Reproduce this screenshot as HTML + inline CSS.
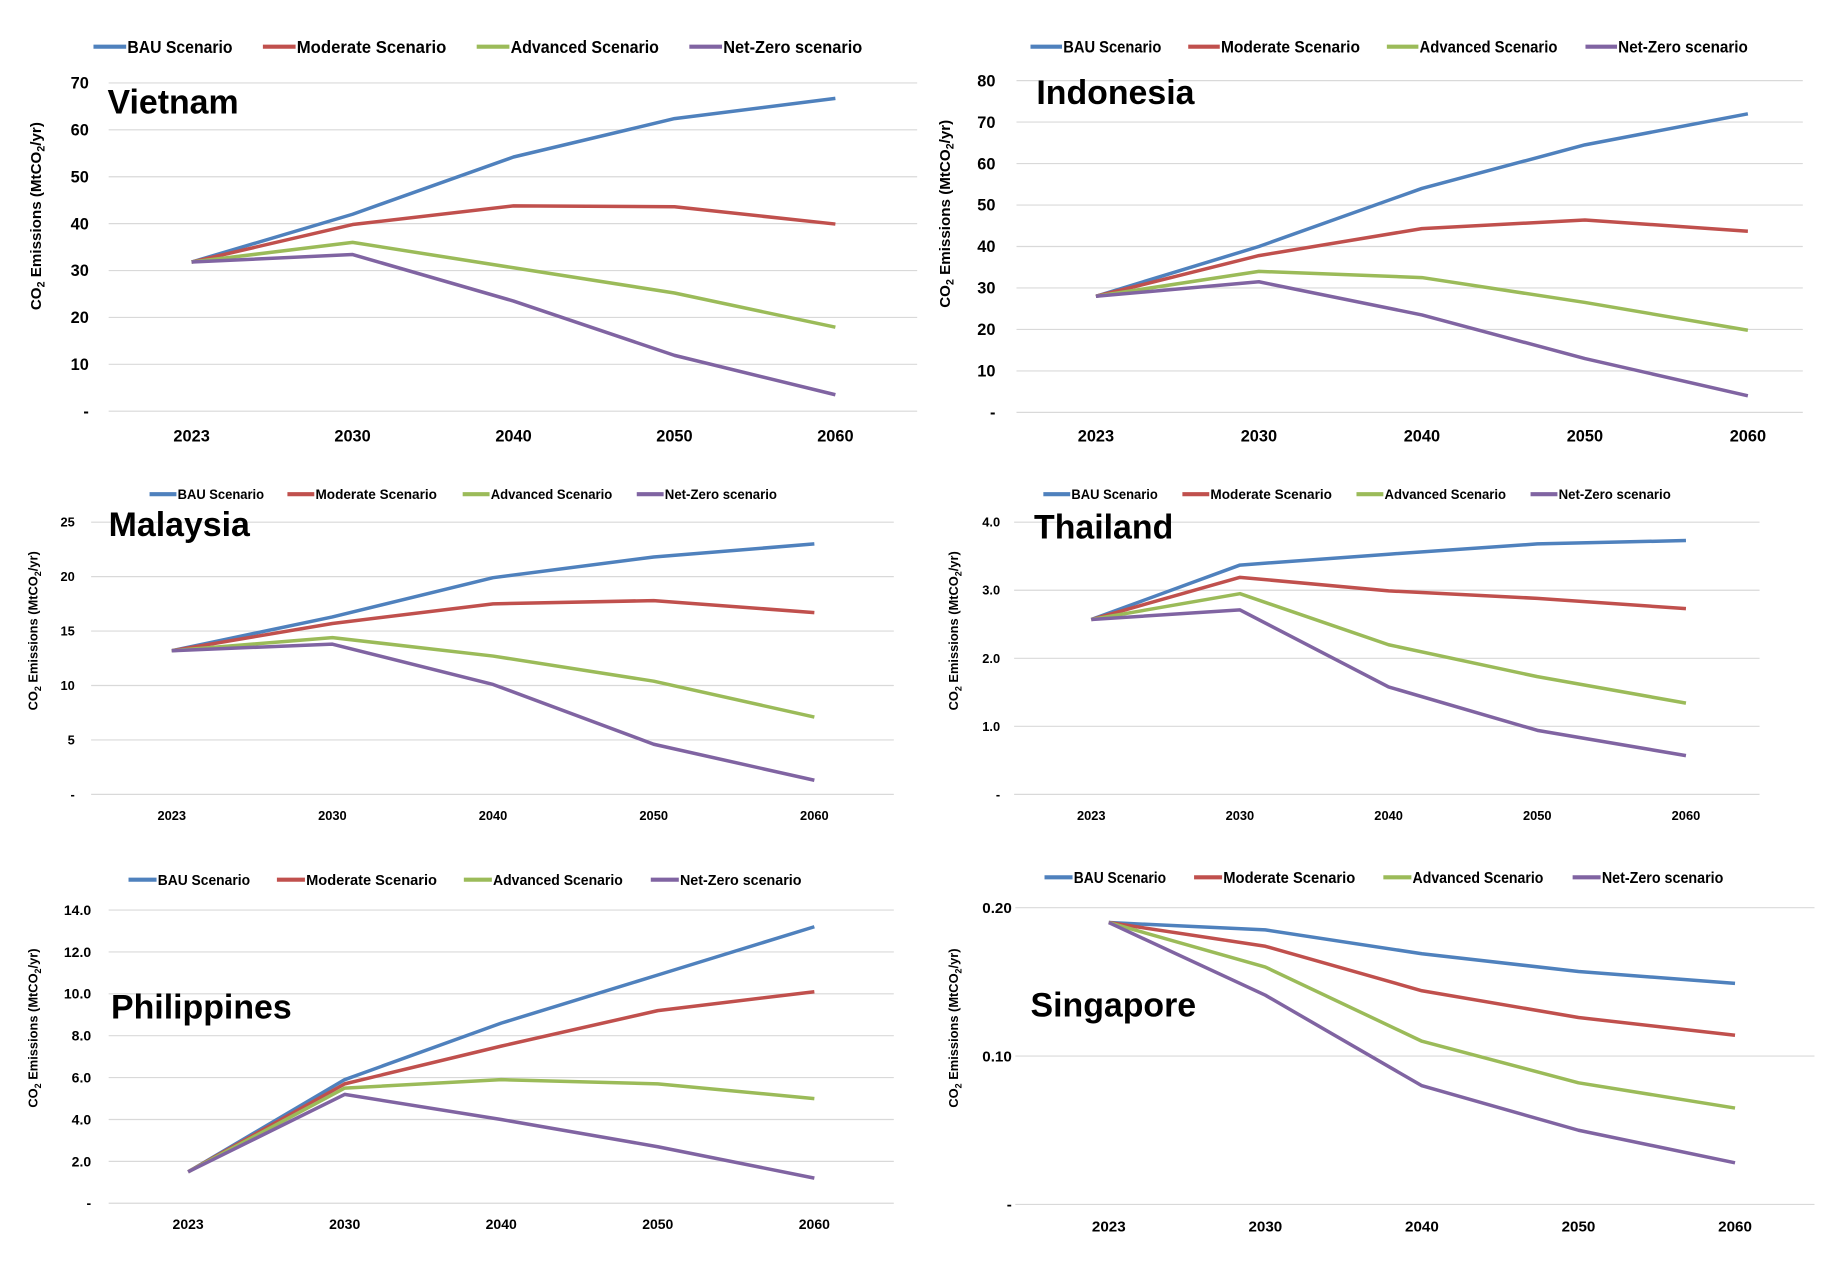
<!DOCTYPE html>
<html><head><meta charset="utf-8"><style>
html,body{margin:0;padding:0;background:#fff;}
svg{display:block;font-family:"Liberation Sans Narrow","Liberation Sans",sans-serif;}
</style></head><body>
<svg id="chart" width="1832" height="1282" viewBox="0 0 1568 1097.4" preserveAspectRatio="none" xmlns="http://www.w3.org/2000/svg"></svg>
<script>
const categories = ["2023","2030","2040","2050","2060"];
const seriesNames = ["BAU Scenario","Moderate Scenario","Advanced Scenario","Net-Zero scenario"];
const colors = ["#4f81bd","#c0504d","#9bbb59","#8064a2"];

const vietnamBAU = [31.8,42,54.2,62.4,66.7];
const vietnamModerate = [31.8,39.8,43.8,43.6,39.9];
const vietnamAdvanced = [31.8,36,30.6,25.2,17.9];
const vietnamNetZero = [31.8,33.4,23.5,11.9,3.5];
const vietnamTicks = ["-","10","20","30","40","50","60","70"];

const indonesiaBAU = [28,40,54,64.5,72];
const indonesiaModerate = [28,37.8,44.3,46.4,43.7];
const indonesiaAdvanced = [28,34,32.5,26.5,19.8];
const indonesiaNetZero = [28,31.5,23.5,13,4];
const indonesiaTicks = ["-","10","20","30","40","50","60","70","80"];

const malaysiaBAU = [13.2,16.3,19.9,21.8,23];
const malaysiaModerate = [13.2,15.7,17.5,17.8,16.7];
const malaysiaAdvanced = [13.2,14.4,12.7,10.4,7.1];
const malaysiaNetZero = [13.2,13.8,10.1,4.6,1.3];
const malaysiaTicks = ["-","5","10","15","20","25"];

const thailandBAU = [2.57,3.37,3.53,3.68,3.73];
const thailandModerate = [2.57,3.19,2.99,2.88,2.73];
const thailandAdvanced = [2.57,2.95,2.2,1.73,1.34];
const thailandNetZero = [2.57,2.71,1.58,0.94,0.57];
const thailandTicks = ["-","1.0","2.0","3.0","4.0"];

const philippinesBAU = [1.5,5.9,8.6,10.9,13.2];
const philippinesModerate = [1.5,5.7,7.5,9.2,10.1];
const philippinesAdvanced = [1.5,5.5,5.9,5.7,5.0];
const philippinesNetZero = [1.5,5.2,4.0,2.7,1.2];
const philippinesTicks = ["-","2.0","4.0","6.0","8.0","10.0","12.0","14.0"];

const singaporeBAU = [0.190,0.185,0.169,0.157,0.149];
const singaporeModerate = [0.190,0.174,0.144,0.126,0.114];
const singaporeAdvanced = [0.190,0.160,0.110,0.082,0.065];
const singaporeNetZero = [0.190,0.141,0.080,0.050,0.028];
const singaporeTicks = ["-","0.10","0.20"];

const NS="http://www.w3.org/2000/svg";
const svg=document.getElementById('chart');
function mk(tag,attrs,parent,text){const e=document.createElementNS(NS,tag);for(const k in attrs)e.setAttribute(k,attrs[k]);if(text!==undefined)e.textContent=text;parent.appendChild(e);return e;}

const panels=[
 {name:"Vietnam",series:[vietnamBAU,vietnamModerate,vietnamAdvanced,vietnamNetZero],ticks:vietnamTicks,max:70,
  gx0:93,gx1:785,y0:352,y1:71,cx0:164,cx1:715,tickX:76,xlabY:378,tfs:14,lfs:15,
  leg:{y:40,x:[80,225,408,590],lw:28,tw:[90,128,127,119]},title:{x:92,y:97,fs:29},at:{x:35,y:185,fs:13}},
 {name:"Indonesia",series:[indonesiaBAU,indonesiaModerate,indonesiaAdvanced,indonesiaNetZero],ticks:indonesiaTicks,max:80,
  gx0:870,gx1:1543,y0:353,y1:69,cx0:938,cx1:1496,tickX:852,xlabY:378,tfs:14,lfs:14,
  leg:{y:40,x:[882,1017,1187,1357],lw:27,tw:[84,119,118,111]},title:{x:887,y:89,fs:29},at:{x:813,y:183,fs:13}},
 {name:"Malaysia",series:[malaysiaBAU,malaysiaModerate,malaysiaAdvanced,malaysiaNetZero],ticks:malaysiaTicks,max:25,
  gx0:78,gx1:765,y0:680,y1:447,cx0:147,cx1:697,tickX:64,xlabY:702,tfs:11,lfs:11.5,
  leg:{y:423,x:[128,246,396,545],lw:23,tw:[74,104,104,96]},title:{x:93,y:459,fs:29},at:{x:32,y:540,fs:11}},
 {name:"Thailand",series:[thailandBAU,thailandModerate,thailandAdvanced,thailandNetZero],ticks:thailandTicks,max:4,
  gx0:868,gx1:1506,y0:680,y1:447,cx0:934,cx1:1443,tickX:856,xlabY:702,tfs:11,lfs:11.5,
  leg:{y:423,x:[893,1012,1161,1310],lw:23,tw:[74,104,104,96]},title:{x:885,y:461,fs:29},at:{x:820,y:540,fs:11}},
 {name:"Philippines",series:[philippinesBAU,philippinesModerate,philippinesAdvanced,philippinesNetZero],ticks:philippinesTicks,max:14,
  gx0:93,gx1:765,y0:1030,y1:779,cx0:161,cx1:697,tickX:78,xlabY:1052,tfs:12,lfs:12.5,
  leg:{y:753,x:[110,237,397,557],lw:24,tw:[79,112,111,104]},title:{x:95,y:872,fs:29},at:{x:32,y:880,fs:11}},
 {name:"Singapore",series:[singaporeBAU,singaporeModerate,singaporeAdvanced,singaporeNetZero],ticks:singaporeTicks,max:0.2,
  gx0:869,gx1:1553,y0:1031,y1:777,cx0:949,cx1:1485,tickX:866,xlabY:1054,tfs:13,lfs:13.5,
  leg:{y:751,x:[894,1022,1184,1346],lw:24,tw:[79,113,112,104]},title:{x:882,y:870,fs:29},at:{x:820,y:880,fs:11}}
];

panels.forEach(p=>{
  const g=mk('g',{},svg);
  
  
  const yS=v=>p.y0-(v/p.max)*(p.y0-p.y1);
  const xS=i=>p.cx0+i*(p.cx1-p.cx0)/(categories.length-1);
  // gridlines + y ticks
  const nT=p.ticks.length-1;
  p.ticks.forEach((t,i)=>{
    const y=p.y0-(i/nT)*(p.y0-p.y1);
    const gl=mk('line',{x1:p.gx0,x2:p.gx1,y1:y,y2:y,stroke:'#d9d9d9','stroke-width':1},g);
    
    
    const tl=mk('text',{x:p.tickX,y:y+p.tfs*0.35,'text-anchor':'end','font-size':p.tfs,'font-weight':'bold',fill:'#000'},g,t);
    
    
  });
  categories.forEach((c,i)=>{
    const xl=mk('text',{x:xS(i),y:p.xlabY,'text-anchor':'middle','font-size':p.tfs,'font-weight':'bold',fill:'#000'},g,c);
    
    
  });
  // series
  p.series.forEach((s,si)=>{
    const pts=s.map((v,i)=>xS(i).toFixed(1)+','+yS(v).toFixed(1)).join(' ');
    const pl=mk('polyline',{points:pts,fill:'none',stroke:colors[si],'stroke-width':3,'stroke-linejoin':'round'},g);
    
    
  });
  // legend
  seriesNames.forEach((n,si)=>{
    const lx=p.leg.x[si];
    const le=mk('g',{},g);
    
    
    mk('line',{x1:lx,x2:lx+p.leg.lw,y1:p.leg.y,y2:p.leg.y,stroke:colors[si],'stroke-width':3.5},le);
    mk('text',{x:lx+p.leg.lw+1,y:p.leg.y+p.lfs*0.36,'font-size':p.lfs,'font-weight':'bold',fill:'#000',textLength:p.leg.tw[si],lengthAdjust:'spacingAndGlyphs'},le,n);
  });
  const tt=mk('text',{x:p.title.x,y:p.title.y,'font-size':p.title.fs,'font-weight':'bold',fill:'#000','font-family':'"Liberation Sans",sans-serif'},g,p.name);
  
  
  const at=mk('text',{transform:`translate(${p.at.x},${p.at.y}) rotate(-90)`,'text-anchor':'middle','font-size':p.at.fs,'font-weight':'bold',fill:'#000','font-family':'"Liberation Sans",sans-serif'},g);
  
  
  mk('tspan',{},at,'CO');
  mk('tspan',{dy:3,'font-size':p.at.fs*0.7},at,'2');
  mk('tspan',{dy:-3},at,' Emissions (MtCO');
  mk('tspan',{dy:3,'font-size':p.at.fs*0.7},at,'2');
  mk('tspan',{dy:-3},at,'/yr)');
});
</script>
</body></html>
